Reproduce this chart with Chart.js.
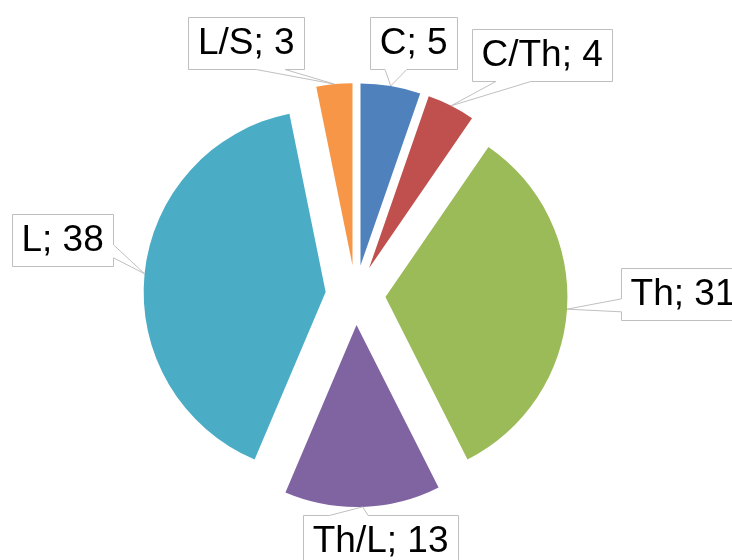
<!DOCTYPE html>
<html>
<head>
<meta charset="utf-8">
<script src="https://cdn.jsdelivr.net/npm/chart.js@4"></script>
<style>
  html, body { margin: 0; padding: 0; background: #fff; }
</style>
</head>
<body>
<canvas id="chart" width="732" height="560"></canvas>
<script>
const categories = ["C", "C/Th", "Th", "Th/L", "L", "L/S"];
const counts = [5, 4, 31, 13, 38, 3];
const sliceColors = ["#4F81BD", "#C0504D", "#9BBB59", "#8064A2", "#4BACC6", "#F79646"];
// where each label box sits, relative to the point on its slice edge
const labelShift = [[23, -43], [91, -51], [116, -15], [18, 34], [-82, -34], [-88, -41]];

const EXPLODE = 30;

// push every slice out along its middle angle
const explode = {
  id: "explode",
  afterDatasetsUpdate(chart) {
    chart.getDatasetMeta(0).data.forEach(arc => {
      const mid = (arc.startAngle + arc.endAngle) / 2;
      arc.x += Math.cos(mid) * EXPLODE;
      arc.y += Math.sin(mid) * EXPLODE;
    });
  }
};

// boxed labels with a wedge pointing at the slice
const callouts = {
  id: "callouts",
  afterDatasetsDraw(chart) {
    const ctx = chart.ctx;
    ctx.save();
    ctx.font = "37px 'Liberation Sans', Arial, sans-serif";
    ctx.textAlign = "center";
    ctx.textBaseline = "middle";
    chart.getDatasetMeta(0).data.forEach((arc, i) => {
      const mid = (arc.startAngle + arc.endAngle) / 2;
      const tx = arc.x + Math.cos(mid) * arc.outerRadius;
      const ty = arc.y + Math.sin(mid) * arc.outerRadius;
      const text = categories[i] + "; " + counts[i];
      const w = Math.round(ctx.measureText(text).width + 19);
      const h = 52;
      const cx = tx + labelShift[i][0], cy = ty + labelShift[i][1];
      const l = Math.round(cx - w / 2) + 0.5, t = Math.round(cy - h / 2) + 0.5;
      const r = l + w, b = t + h;
      const nx = (tx - cx) / (w / 2), ny = (ty - cy) / (h / 2);
      let edge;
      if (Math.abs(ny) >= Math.abs(nx)) edge = ny < 0 ? "top" : "bottom";
      else edge = nx < 0 ? "left" : "right";
      const fx = tx < cx ? [2 / 12, 5 / 12] : [7 / 12, 10 / 12];
      const fy = ty < cy ? [2 / 12, 5 / 12] : [7 / 12, 10 / 12];

      const pts = [[l, t]];
      if (edge === "top") pts.push([l + w * fx[0], t], [tx, ty], [l + w * fx[1], t]);
      pts.push([r, t]);
      if (edge === "right") pts.push([r, t + h * fy[0]], [tx, ty], [r, t + h * fy[1]]);
      pts.push([r, b]);
      if (edge === "bottom") pts.push([l + w * fx[1], b], [tx, ty], [l + w * fx[0], b]);
      pts.push([l, b]);
      if (edge === "left") pts.push([l, t + h * fy[1]], [tx, ty], [l, t + h * fy[0]]);

      ctx.beginPath();
      pts.forEach((p, k) => k ? ctx.lineTo(p[0], p[1]) : ctx.moveTo(p[0], p[1]));
      ctx.closePath();
      ctx.fillStyle = "#ffffff";
      ctx.fill();
      ctx.strokeStyle = "#BFBFBF";
      ctx.lineWidth = 1;
      ctx.stroke();

      ctx.fillStyle = "#000000";
      ctx.fillText(text, cx, cy + 1);
    });
    ctx.restore();
  }
};

new Chart(document.getElementById("chart"), {
  type: "pie",
  data: {
    labels: categories,
    datasets: [{
      data: counts,
      backgroundColor: sliceColors,
      borderWidth: 0,
      radius: 182
    }]
  },
  options: {
    responsive: false,
    animation: false,
    layout: { padding: { left: 0, right: 21, top: 30, bottom: 0 } },
    plugins: {
      legend: { display: false },
      tooltip: { enabled: false }
    }
  },
  plugins: [explode, callouts]
});
</script>
</body>
</html>
